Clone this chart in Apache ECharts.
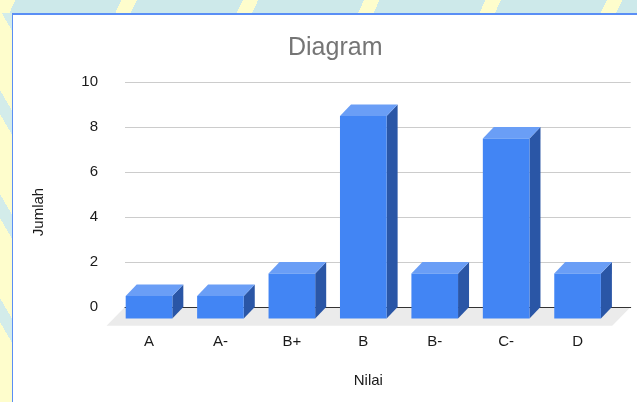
<!DOCTYPE html>
<html><head><meta charset="utf-8">
<script src="https://cdn.jsdelivr.net/npm/echarts@6/dist/echarts.min.js"></script>
<style>
html,body{margin:0;padding:0;width:637px;height:402px;overflow:hidden;background:#fefdcc;}
#bgTop{position:absolute;left:0;top:0;width:637px;height:13px;background:repeating-linear-gradient(115deg,#fefdcc 0 14px,#cde9ea 14px 110px);}
#bgLeft{position:absolute;left:0;top:13px;width:12px;height:389px;background:repeating-linear-gradient(60deg,#fefdcc 0 40px,#d3ecea 40px 52px);}
#sheet{position:absolute;left:12px;top:13px;width:640px;height:400px;background:#fff;border-left:1.5px solid #5a8ef5;border-top:2px solid #5a8ef5;}
#chart{position:absolute;left:0;top:0;width:637px;height:402px;}
</style></head>
<body>
<div id="bgTop"></div><div id="bgLeft"></div><div id="sheet"></div>
<div id="chart"></div>
<script>
var categories = ['A', 'A-', 'B+', 'B', 'B-', 'C-', 'D'];
var values = [1, 1, 2, 9, 2, 8, 2];
var yMin = 0, yMax = 10, yInterval = 2;

var FONT = '"Liberation Sans", Arial, sans-serif';
var FRONT = '#4285f4', TOP = '#6a9ef6', SIDE = '#2a56a6';
var DX = 11, DY = 11.6;      // bar depth
var FDX = 18.5, FDY = 18.7;  // floor depth

var chart = echarts.init(document.getElementById('chart'), null, {renderer: 'canvas'});

var barData = categories.map(function (c, i) { return [i, values[i]]; });

var option = {
  backgroundColor: 'transparent',
  animation: false,
  title: {
    text: 'Diagram', left: 283, top: 31,
    textStyle: {fontFamily: FONT, fontSize: 25, fontWeight: 'normal', color: '#757575'}
  },
  grid: [
    {left: 125, right: 6.3, top: 82, bottom: 95},
    {left: 124.3, right: 12.7, top: 82, bottom: 95}
  ],
  xAxis: [
    {type: 'category', gridIndex: 0, data: categories, z: 1,
     axisLine: {show: true, lineStyle: {color: '#333', width: 1}},
     axisTick: {show: false}, axisLabel: {show: false}, splitLine: {show: false}},
    {type: 'category', gridIndex: 1, data: categories,
     name: 'Nilai', nameLocation: 'middle', nameGap: 66,
     nameTextStyle: {fontFamily: FONT, fontSize: 15, color: '#1a1a1a', padding: [0, 12, 0, 0]},
     axisLine: {show: false}, axisTick: {show: false},
     axisLabel: {fontFamily: FONT, fontSize: 15, color: '#1a1a1a', margin: 27, padding: [0, 22, 0, 0]},
     splitLine: {show: false}}
  ],
  yAxis: [
    {type: 'value', gridIndex: 0, min: yMin, max: yMax, interval: yInterval,
     name: 'Jumlah', nameLocation: 'middle', nameGap: 79, nameRotate: 90,
     nameTextStyle: {fontFamily: FONT, fontSize: 15, color: '#1a1a1a', padding: [0, 35, 0, 0]},
     axisLine: {show: false}, axisTick: {show: false},
     axisLabel: {fontFamily: FONT, fontSize: 15, color: '#1a1a1a', margin: 27, padding: [3, 0, 0, 0]},
     splitLine: {show: true, lineStyle: {color: '#cccccc', width: 1}}},
    {type: 'value', gridIndex: 1, min: yMin, max: yMax, interval: yInterval,
     axisLine: {show: false}, axisTick: {show: false}, axisLabel: {show: false}, splitLine: {show: false}}
  ],
  series: [
    {
      type: 'custom', xAxisIndex: 0, yAxisIndex: 0, z: -1, silent: true,
      data: [[0, 0]],
      renderItem: function (params, api) {
        var cs = params.coordSys;
        var yb = cs.y + cs.height;
        return {
          type: 'polygon',
          shape: {points: [[cs.x, yb], [cs.x + cs.width, yb], [cs.x + cs.width - FDX, yb + FDY], [cs.x - FDX, yb + FDY]]},
          style: {fill: '#ebebeb'}
        };
      }
    },
    {
      type: 'custom', xAxisIndex: 1, yAxisIndex: 1, z: 3,
      encode: {x: 0, y: 1},
      data: barData,
      renderItem: function (params, api) {
        var top = api.coord([api.value(0), api.value(1)]);
        var base = api.coord([api.value(0), 0]);
        var band = api.size([1, 0])[0];
        var w = band * 0.653;
        var fx = top[0] - DX - w / 2;
        var fyT = top[1] + DY;
        var fyB = base[1] + DY;
        return {
          type: 'group',
          children: [
            {type: 'polygon', shape: {points: [[fx + w, fyT], [fx + w + DX, fyT - DY], [fx + w + DX, fyB - DY], [fx + w, fyB]]}, style: {fill: SIDE}},
            {type: 'polygon', shape: {points: [[fx, fyT], [fx + w, fyT], [fx + w + DX, fyT - DY], [fx + DX, fyT - DY]]}, style: {fill: TOP}},
            {type: 'rect', shape: {x: fx, y: fyT, width: w, height: fyB - fyT}, style: {fill: FRONT}}
          ]
        };
      }
    }
  ]
};
chart.setOption(option);
</script>
</body></html>
